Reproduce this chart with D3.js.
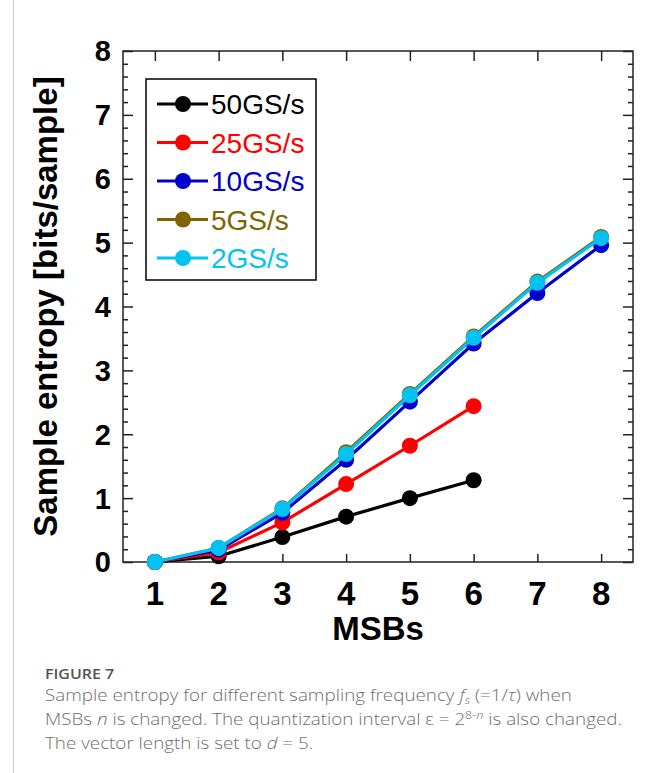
<!DOCTYPE html>
<html><head><meta charset="utf-8">
<script src="https://cdn.jsdelivr.net/npm/d3@7"></script>
<style>
html,body{margin:0;padding:0;background:#fff;}
svg{display:block;}
</style></head>
<body>
<svg id="chart" width="654" height="773"></svg>
<script>
const msbs = [1,2,3,4,5,6,7,8];
const seriesNames = ["50GS/s","25GS/s","10GS/s","5GS/s","2GS/s"];
const seriesColors = ["#000000","#ff0000","#0000cc","#806400","#00c3f2"];
const v50 = [0, 0.09, 0.39, 0.71, 1.00, 1.28];
const v25 = [0, 0.15, 0.62, 1.22, 1.82, 2.44];
const v10 = [0, 0.19, 0.77, 1.60, 2.51, 3.42, 4.21, 4.96];
const v5  = [0, 0.22, 0.84, 1.72, 2.63, 3.53, 4.39, 5.09];
const v2  = [0, 0.22, 0.83, 1.69, 2.61, 3.51, 4.37, 5.07];
const seriesValues = [v50, v25, v10, v5, v2];
const yTicks = [0,1,2,3,4,5,6,7,8];
const xTicks = [1,2,3,4,5,6,7,8];
const xTitle = "MSBs";
const yTitle = "Sample entropy [bits/sample]";

const svg = d3.select("#chart");
const L = 123, R = 633, T = 51, B = 562;
const x = d3.scaleLinear().domain([0.5, 8.5]).range([L, R]);
const y = d3.scaleLinear().domain([0, 8]).range([B, T]);

// left page rule
svg.append("line").attr("x1",13.5).attr("x2",13.5).attr("y1",0).attr("y2",773)
  .attr("stroke","#d0d0d0").attr("stroke-width",1.2);

const minor = d3.range(0, 8.001, 0.2).filter(v => Math.abs(v - Math.round(v)) > 1e-6);
const axColor = "#222";

// axes with inward ticks
const gL = svg.append("g").attr("transform",`translate(${L},0)`)
  .call(d3.axisRight(y).tickValues(yTicks).tickSize(10).tickFormat(""));
const gLm = svg.append("g").attr("transform",`translate(${L},0)`)
  .call(d3.axisRight(y).tickValues(minor).tickSize(5).tickFormat(""));
const gR = svg.append("g").attr("transform",`translate(${R},0)`)
  .call(d3.axisLeft(y).tickValues(yTicks).tickSize(10).tickFormat(""));
const gRm = svg.append("g").attr("transform",`translate(${R},0)`)
  .call(d3.axisLeft(y).tickValues(minor).tickSize(5).tickFormat(""));
const gB = svg.append("g").attr("transform",`translate(0,${B})`)
  .call(d3.axisTop(x).tickValues(xTicks).tickSize(8).tickFormat(""));
const gT = svg.append("g").attr("transform",`translate(0,${T})`)
  .call(d3.axisBottom(x).tickValues(xTicks).tickSize(10).tickFormat(""));
[gL,gLm,gR,gRm,gB,gT].forEach(g=>{
  g.selectAll(".domain").remove();
  g.selectAll("line").attr("stroke",axColor).attr("stroke-width",1.5);
});
svg.append("rect").attr("x",L).attr("y",T).attr("width",R-L).attr("height",B-T)
  .attr("fill","none").attr("stroke",axColor).attr("stroke-width",1.5);

// tick labels
svg.append("g").selectAll("text").data(yTicks).join("text")
  .attr("x", L-12).attr("y", d=>y(d)).attr("dy","0.36em")
  .attr("text-anchor","end")
  .attr("font-family","'Liberation Sans', Arial, sans-serif")
  .attr("font-weight","bold").attr("font-size",29).attr("fill","#000")
  .text(d=>d);
svg.append("g").selectAll("text").data(xTicks).join("text")
  .attr("x", d=>x(d)).attr("y", 605)
  .attr("text-anchor","middle")
  .attr("font-family","'Liberation Sans', Arial, sans-serif")
  .attr("font-weight","bold").attr("font-size",33).attr("fill","#000")
  .text(d=>d);

// titles
svg.append("text").attr("x",(L+R)/2).attr("y",640).attr("text-anchor","middle")
  .attr("font-family","'Liberation Sans', Arial, sans-serif")
  .attr("font-weight","bold").attr("font-size",33).text(xTitle);
svg.append("text").attr("transform",`translate(57,${(T+B)/2}) rotate(-90)`)
  .attr("text-anchor","middle")
  .attr("font-family","'Liberation Sans', Arial, sans-serif")
  .attr("font-weight","bold").attr("font-size",33).text(yTitle);

// series
const line = d3.line().x((d,i)=>x(msbs[i])).y(d=>y(d));
seriesValues.forEach((vals,k)=>{
  const g = svg.append("g");
  g.append("path").datum(vals).attr("d",line).attr("fill","none")
    .attr("stroke",seriesColors[k]).attr("stroke-width",3.2);
  g.selectAll("circle").data(vals).join("circle")
    .attr("cx",(d,i)=>x(msbs[i])).attr("cy",d=>y(d)).attr("r",8)
    .attr("fill",seriesColors[k]);
});

// legend
const lg = svg.append("g");
lg.append("rect").attr("x",146).attr("y",79).attr("width",170).attr("height",201)
  .attr("fill","#fff").attr("stroke","#000").attr("stroke-width",1.5);
seriesNames.forEach((n,k)=>{
  const yy = 104 + k*38.5;
  lg.append("line").attr("x1",157).attr("x2",208).attr("y1",yy).attr("y2",yy)
    .attr("stroke",seriesColors[k]).attr("stroke-width",3.2);
  lg.append("circle").attr("cx",183).attr("cy",yy).attr("r",8).attr("fill",seriesColors[k]);
  lg.append("text").attr("x",211).attr("y",yy).attr("dy","0.36em")
    .attr("font-family","'Liberation Sans', Arial, sans-serif")
    .attr("font-size",28).attr("fill",seriesColors[k]).text(n);
});

// caption
const cf = "'Open Sans', 'Noto Sans', sans-serif";
const capAll = svg.append("g").attr("transform","translate(45,0) scale(1.14,1) translate(-45,0)");
capAll.append("text").attr("x",45).attr("y",679).attr("font-family",cf)
  .attr("font-weight",600).attr("font-size",14).attr("fill","#555").text("FIGURE 7");
const cap = capAll.append("g").attr("font-family",cf).attr("font-size",16.5)
  .attr("fill","#6e6e6e").attr("font-weight",300);
const t1 = cap.append("text").attr("x",45).attr("y",701);
t1.append("tspan").text("Sample entropy for different sampling frequency ");
t1.append("tspan").attr("font-style","italic").text("f");
t1.append("tspan").attr("font-style","italic").attr("font-size",11).attr("dy",3).text("s");
t1.append("tspan").attr("dy",-3).text(" (=1/");
t1.append("tspan").attr("font-style","italic").text("τ");
t1.append("tspan").text(") when");
const t2 = cap.append("text").attr("x",45).attr("y",725);
t2.append("tspan").text("MSBs ");
t2.append("tspan").attr("font-style","italic").text("n");
t2.append("tspan").text(" is changed. The quantization interval ε = 2");
t2.append("tspan").attr("font-size",11).attr("dy",-6).text("8-");
t2.append("tspan").attr("font-size",11).attr("font-style","italic").text("n");
t2.append("tspan").attr("dy",6).text(" is also changed.");
const t3 = cap.append("text").attr("x",45).attr("y",749);
t3.append("tspan").text("The vector length is set to ");
t3.append("tspan").attr("font-style","italic").text("d");
t3.append("tspan").text(" = 5.");
</script>
</body></html>
